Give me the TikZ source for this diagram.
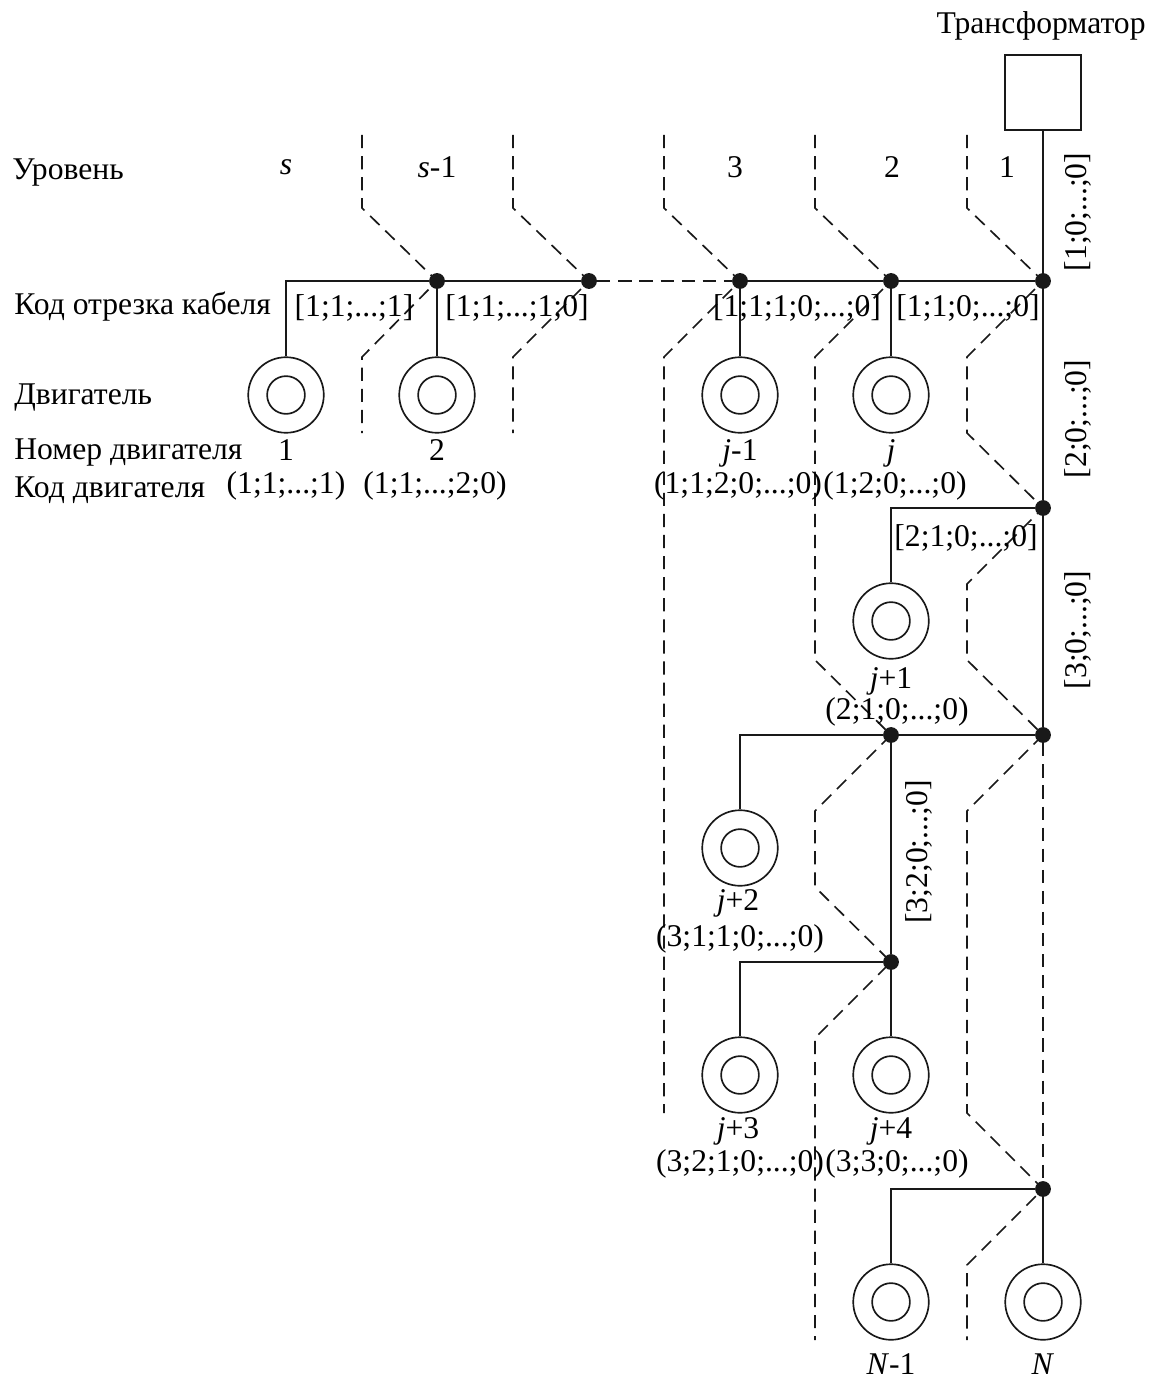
\documentclass[tikz,border=0pt]{standalone}
\usepackage{fontspec}
\setmainfont{Liberation Serif}
\begin{document}
\begin{tikzpicture}[x=.02cm,y=-.02cm,
                    line/.style={line width=.95pt,black!90},
                    border/.style={line width=.95pt,black!90,dash pattern=on 7.5pt off 4.5pt},
                    vertex/.style={circle,fill=black!90,inner sep=0pt,minimum size=9pt},
                    motor/.style={circle,draw=black!90,line width=.95pt,inner sep=0pt,minimum size=43pt},
                    motorin/.style={circle,draw=black!90,line width=.95pt,inner sep=0pt,minimum size=21.5pt},
                    txt/.style={inner sep=0pt,font=\fontsize{18}{20}\selectfont},
                    lft/.style={txt,anchor=west},
                    vert/.style={txt,rotate=90}]
 \useasboundingbox (0,0) rectangle (1152,1378);
 \node[draw=black!90,line width=.95pt,minimum size=43pt,inner sep=0pt] (tr) at (1043,92.5) {};
 \foreach \n/\x/\y in {ja/437/281,jb/589/281,jc/740/281,jd/891/281,je/1043/281,
                       jf/1043/508,jg/891/735,jh/1043/735,ji/891/962,jk/1043/1189}
   \node[vertex] (\n) at (\x,\y) {};
 \foreach \n/\x/\y in {m1/286/395,m2/437/395,m3/740/395,m4/891/395,m5/891/621,
                       m6/740/848,m7/740/1075,m8/891/1075,m9/891/1302,m10/1043/1302}{
   \node[motor] (\n) at (\x,\y) {};
   \node[motorin] (\n i) at (\n) {};
 }
 \foreach \n/\x in {t1/362,t2/513,t3/664,t4/815,t5/967}
   \coordinate (\n) at (\x,135);
 \draw[line] (m1.north) |- (ja); \draw[line] (ja)--(jb); \draw[line] (ja)--(m2);
 \draw[line] (jc)--(jd)--(je); \draw[line] (jc)--(m3); \draw[line] (jd)--(m4);
 \draw[line] (tr)--(je)--(jf)--(jh);
 \draw[line] (jf) -| (m5); \draw[line] (jh)--(jg); \draw[line] (jg) -| (m6);
 \draw[line] (jg)--(ji)--(m8); \draw[line] (ji) -| (m7);
 \draw[line] (jk) -| (m9); \draw[line] (jk)--(m10);
 \draw[border] (jb)--(jc); \draw[border] (jh)--(jk);
 \draw[border] (t1)--++(0,73)--(ja.center)--++(-75,76)--++(0,76);
 \draw[border] (t2)--++(0,73)--(jb.center)--++(-76,76)--++(0,76);
 \draw[border] (t3)--++(0,73)--(jc.center)--++(-76,76)--++(0,756);
 \draw[border] (t4)--++(0,73)--(jd.center)--++(-76,76)--++(0,303)--(jg.center)
   --++(-76,76)--++(0,76)--(ji.center)--++(-76,76)--++(0,302);
 \draw[border] (t5)--++(0,73)--(je.center)--++(-76,76)--++(0,76)--(jf.center)
   --++(-76,76)--++(0,76)--(jh.center)--++(-76,76)--++(0,302)--(jk.center)
   --++(-76,76)--++(0,75);
 \node[txt] (ttr) at (1041,26) {Трансформатор};
 \node[lft] (tlev) at (12,173) {Уровень};
 \node[lft] (tcab) at (14,307) {Код отрезка кабеля};
 \node[lft] (tmot) at (14,398) {Двигатель};
 \node[lft] (tnum) at (14,453) {Номер двигателя};
 \node[lft] (tcod) at (14,490) {Код двигателя};
 \node[txt] (ls) at (286,167) {\textit{s}};
 \node[txt] (lsm) at (437,167) {\textit{s}-1};
 \node[txt] (l3) at (735,167) {3};
 \node[txt] (l2) at (892,167) {2};
 \node[txt] (l1) at (1007,167) {1};
 \node[vert] (c1) at (1078,212) {[1;0;...;0]};
 \node[vert] (c2) at (1078,419) {[2;0;...;0]};
 \node[vert] (c3) at (1078,630) {[3;0;...;0]};
 \node[vert] (c4) at (919,852) {[3;2;0;...;0]};
 \node[txt] (c5) at (354,308) {[1;1;...;1]};
 \node[txt] (c6) at (517,308) {[1;1;...;1;0]};
 \node[txt] (c7) at (797,308) {[1;1;1;0;...;0]};
 \node[txt] (c8) at (968,308) {[1;1;0;...;0]};
 \node[txt] (c9) at (966,538) {[2;1;0;...;0]};
 \node[txt] (n1) at (286,450) {1};
 \node[txt] (n2) at (437,450) {2};
 \node[txt] (n3) at (740,453) {\textit{j}-1};
 \node[txt] (n4) at (891,453) {\textit{j}};
 \node[txt] (n5) at (891,681) {\textit{j}+1};
 \node[txt] (n6) at (738,903) {\textit{j}+2};
 \node[txt] (n7) at (738,1131) {\textit{j}+3};
 \node[txt] (n8) at (891,1131) {\textit{j}+4};
 \node[txt] (n9) at (891,1364) {\textit{N}-1};
 \node[txt] (n10) at (1043,1364) {\textit{N}};
 \node[txt] (k1) at (286,486) {(1;1;...;1)};
 \node[txt] (k2) at (435,486) {(1;1;...;2;0)};
 \node[txt] (k3) at (738,486) {(1;1;2;0;...;0)};
 \node[txt] (k4) at (895,486) {(1;2;0;...;0)};
 \node[txt] (k5) at (897,712) {(2;1;0;...;0)};
 \node[txt] (k6) at (740,939) {(3;1;1;0;...;0)};
 \node[txt] (k7) at (740,1164) {(3;2;1;0;...;0)};
 \node[txt] (k8) at (897,1164) {(3;3;0;...;0)};
\end{tikzpicture}
\end{document}
